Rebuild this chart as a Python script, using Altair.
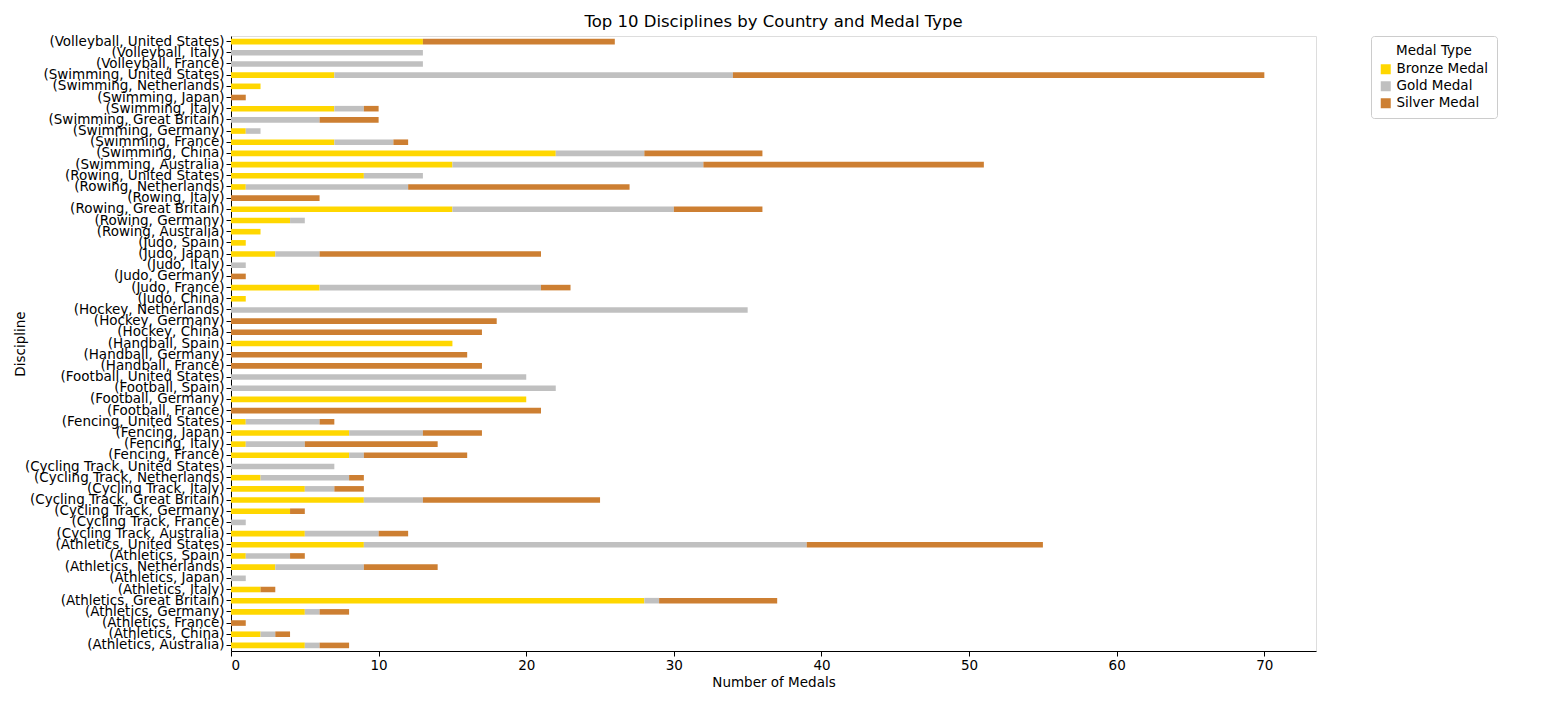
import altair as alt
import pandas as pd

rows = [
    "(Volleyball, United States)", "(Volleyball, Italy)", "(Volleyball, France)",
    "(Swimming, United States)", "(Swimming, Netherlands)", "(Swimming, Japan)",
    "(Swimming, Italy)", "(Swimming, Great Britain)", "(Swimming, Germany)",
    "(Swimming, France)", "(Swimming, China)", "(Swimming, Australia)",
    "(Rowing, United States)", "(Rowing, Netherlands)", "(Rowing, Italy)",
    "(Rowing, Great Britain)", "(Rowing, Germany)", "(Rowing, Australia)",
    "(Judo, Spain)", "(Judo, Japan)", "(Judo, Italy)", "(Judo, Germany)",
    "(Judo, France)", "(Judo, China)", "(Hockey, Netherlands)", "(Hockey, Germany)",
    "(Hockey, China)", "(Handball, Spain)", "(Handball, Germany)", "(Handball, France)",
    "(Football, United States)", "(Football, Spain)", "(Football, Germany)",
    "(Football, France)", "(Fencing, United States)", "(Fencing, Japan)",
    "(Fencing, Italy)", "(Fencing, France)", "(Cycling Track, United States)",
    "(Cycling Track, Netherlands)", "(Cycling Track, Italy)",
    "(Cycling Track, Great Britain)", "(Cycling Track, Germany)",
    "(Cycling Track, France)", "(Cycling Track, Australia)",
    "(Athletics, United States)", "(Athletics, Spain)", "(Athletics, Netherlands)",
    "(Athletics, Japan)", "(Athletics, Italy)", "(Athletics, Great Britain)",
    "(Athletics, Germany)", "(Athletics, France)", "(Athletics, China)",
    "(Athletics, Australia)",
]
bronze = [13, 0, 0, 7, 2, 0, 7, 0, 1, 7, 22, 15, 9, 1, 0, 15, 4, 2, 1, 3, 0, 0, 6, 1,
          0, 0, 0, 15, 0, 0, 0, 0, 20, 0, 1, 8, 1, 8, 0, 2, 5, 9, 4, 0, 5,
          9, 1, 3, 0, 2, 28, 5, 0, 2, 5]
gold = [0, 13, 13, 27, 0, 0, 2, 6, 1, 4, 6, 17, 4, 11, 0, 15, 1, 0, 0, 3, 1, 0, 15, 0,
        35, 0, 0, 0, 0, 0, 20, 22, 0, 0, 5, 5, 4, 1, 7, 6, 2, 4, 0, 1, 5,
        30, 3, 6, 1, 0, 1, 1, 0, 1, 1]
silver = [13, 0, 0, 36, 0, 1, 1, 4, 0, 1, 8, 19, 0, 15, 6, 6, 0, 0, 0, 15, 0, 1, 2, 0,
          0, 18, 17, 0, 16, 17, 0, 0, 0, 21, 1, 4, 9, 7, 0, 1, 2, 12, 1, 0, 2,
          16, 1, 5, 0, 1, 8, 2, 1, 1, 2]
medals = ["Bronze Medal", "Gold Medal", "Silver Medal"]
colors = ["#FFD700", "#C0C0C0", "#CD7F32"]

records = []
for i, r in enumerate(rows):
    for k, (m, v) in enumerate(zip(medals, [bronze[i], gold[i], silver[i]])):
        records.append({"Discipline": r, "Medal Type": m, "Count": v, "order": k})
df = pd.DataFrame(records)

fs = 13.5

chart = alt.Chart(df).mark_bar().encode(
    y=alt.Y("Discipline:N", sort=rows, title="Discipline",
            scale=alt.Scale(paddingInner=0.5, paddingOuter=0.25),
            axis=alt.Axis(labelFontSize=fs, labelColor="black", titleFontWeight="normal",
                          titleFontSize=fs, domainColor="black", tickColor="black", labelLimit=300)),
    x=alt.X("Count:Q", stack="zero", title="Number of Medals",
            scale=alt.Scale(domain=[0, 73.5], nice=False),
            axis=alt.Axis(values=list(range(0, 71, 10)), grid=False, labelFontSize=fs,
                          labelColor="black", titleFontWeight="normal", titleFontSize=fs,
                          domainColor="black", tickColor="black")),
    color=alt.Color("Medal Type:N", scale=alt.Scale(domain=medals, range=colors),
                    legend=alt.Legend(title="Medal Type", orient="right", offset=55,
                                      symbolType="square", labelFontSize=fs, titleFontSize=fs,
                                      titleFontWeight="normal", strokeColor="#ccc",
                                      padding=8, cornerRadius=3, titleAnchor="middle")),
    order=alt.Order("order:Q"),
).properties(
    width=1085, height=615,
    title=alt.Title("Top 10 Disciplines by Country and Medal Type", fontSize=16.5, fontWeight="normal"),
).configure_view(stroke="black").configure(font="DejaVu Sans")

chart.save("out.html", embed_options={"renderer": "svg", "actions": False})
